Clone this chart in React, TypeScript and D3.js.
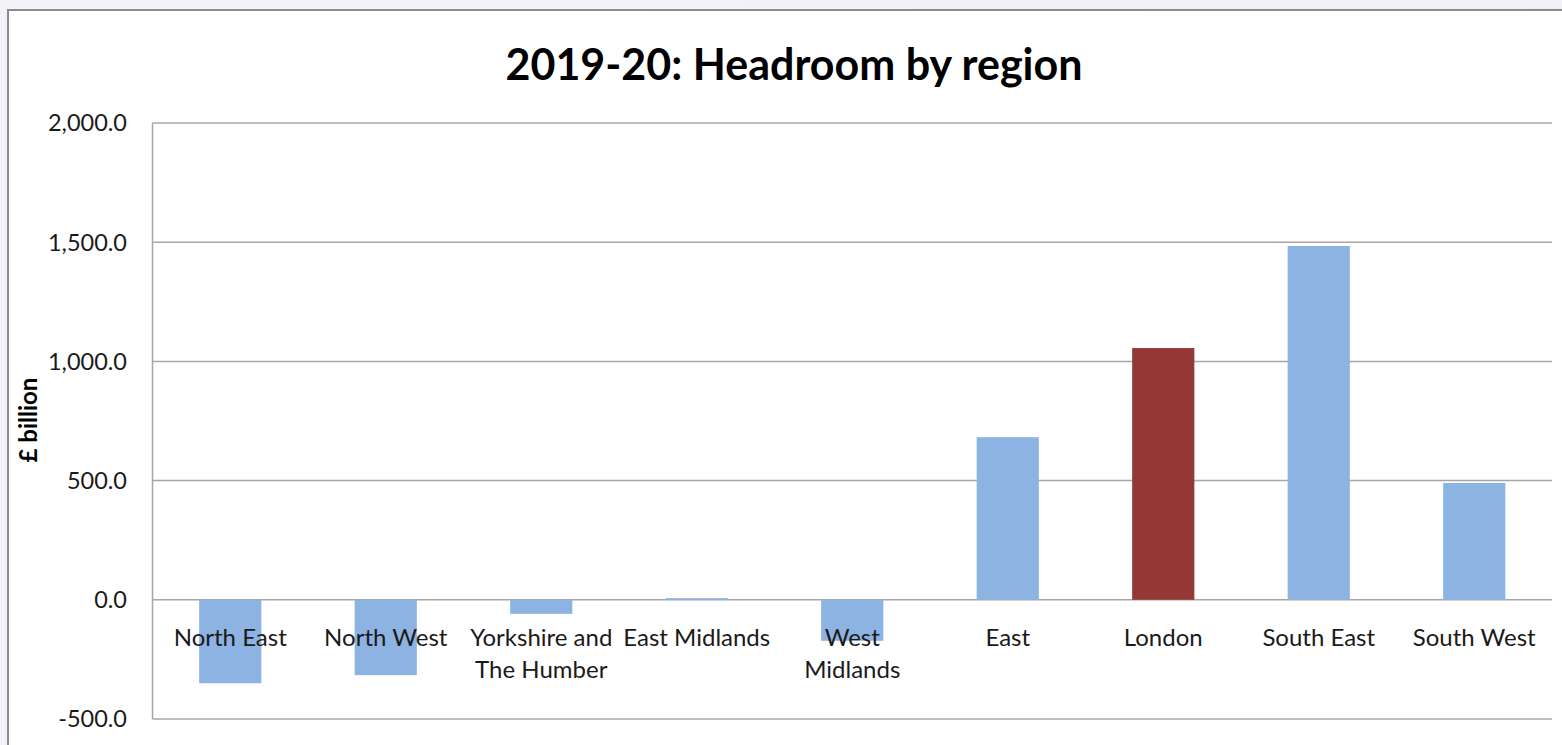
import React from "react";
import * as d3 from "d3";

const categories = [
  "North East",
  "North West",
  "Yorkshire and The Humber",
  "East Midlands",
  "West Midlands",
  "East",
  "London",
  "South East",
  "South West",
];
const categoryLabelLines = [
  ["North East"],
  ["North West"],
  ["Yorkshire and", "The Humber"],
  ["East Midlands"],
  ["West", "Midlands"],
  ["East"],
  ["London"],
  ["South East"],
  ["South West"],
];
const headroom = [-350, -316, -59, 7, -172, 682, 1056, 1484, 490];
const highlighted = ["London"];
const yTicks = [-500, 0, 500, 1000, 1500, 2000];
const title = "2019-20: Headroom by region";
const yTitle = "£ billion";

const W = 1562;
const H = 745;
const plot = { left: 152.5, right: 1552, top: 123, bottom: 719 };
const FONT = "Lato, 'Liberation Sans', sans-serif";

export default function App() {
  const x = d3
    .scaleBand<string>()
    .domain(categories)
    .range([plot.left, plot.right])
    .padding(0);
  const y = d3.scaleLinear().domain([-500, 2000]).range([plot.bottom, plot.top]);
  const fmt = (v: number) => d3.format(",.1f")(v).replace("−", "-");
  const barW = x.bandwidth() * 0.4;

  return (
    <svg
      width={W}
      height={H}
      style={{ position: "absolute", left: 0, top: 0, display: "block" }}
    >
      <defs>
        <linearGradient id="bg" x1="0" y1="0" x2="1" y2="0">
          <stop offset="0" stopColor="#f3f3f8" />
          <stop offset="1" stopColor="#f1f1f5" />
        </linearGradient>
      </defs>
      <rect x={0} y={0} width={W} height={H} fill="url(#bg)" />
      <rect x={8} y={10} width={W + 20} height={H + 20} fill="#ffffff" stroke="#8c8c8c" strokeWidth={2} />

      <text
        x={794}
        y={80}
        textAnchor="middle"
        fontFamily={FONT}
        fontWeight="bold"
        fontSize={43}
        fill="#000"
      >
        {title}
      </text>

      {yTicks.map((t) => (
        <g key={t}>
          <line
            x1={plot.left}
            x2={plot.right}
            y1={y(t)}
            y2={y(t)}
            stroke="#a6a6a6"
            strokeWidth={1.5}
          />
          <text
            x={127}
            y={y(t)}
            dy="0.36em"
            textAnchor="end"
            fontFamily={FONT}
            fontSize={23.5}
            fill="#1a1a1a"
          >
            {fmt(t)}
          </text>
        </g>
      ))}
      <line x1={plot.left} x2={plot.left} y1={plot.top} y2={plot.bottom} stroke="#a6a6a6" strokeWidth={1.5} />

      {categories.map((c, i) => {
        const v = headroom[i];
        const cx = (x(c) as number) + x.bandwidth() / 2;
        return (
          <rect
            key={c}
            x={cx - barW / 2}
            y={Math.min(y(v), y(0))}
            width={barW}
            height={Math.abs(y(v) - y(0))}
            fill={highlighted.includes(c) ? "#953735" : "#8db3e2"}
          />
        );
      })}

      {categories.map((c, i) => {
        const cx = (x(c) as number) + x.bandwidth() / 2;
        return (
          <text
            key={c}
            x={cx}
            y={645.5}
            textAnchor="middle"
            fontFamily={FONT}
            fontSize={24}
            fill="#1a1a1a"
          >
            {categoryLabelLines[i].map((l, j) => (
              <tspan key={j} x={cx} dy={j === 0 ? 0 : 32}>
                {l}
              </tspan>
            ))}
          </text>
        );
      })}

      <text
        transform={`translate(37,420) rotate(-90)`}
        textAnchor="middle"
        fontFamily={FONT}
        fontWeight="bold"
        fontSize={24}
        fill="#000"
      >
        {yTitle}
      </text>
    </svg>
  );
}
